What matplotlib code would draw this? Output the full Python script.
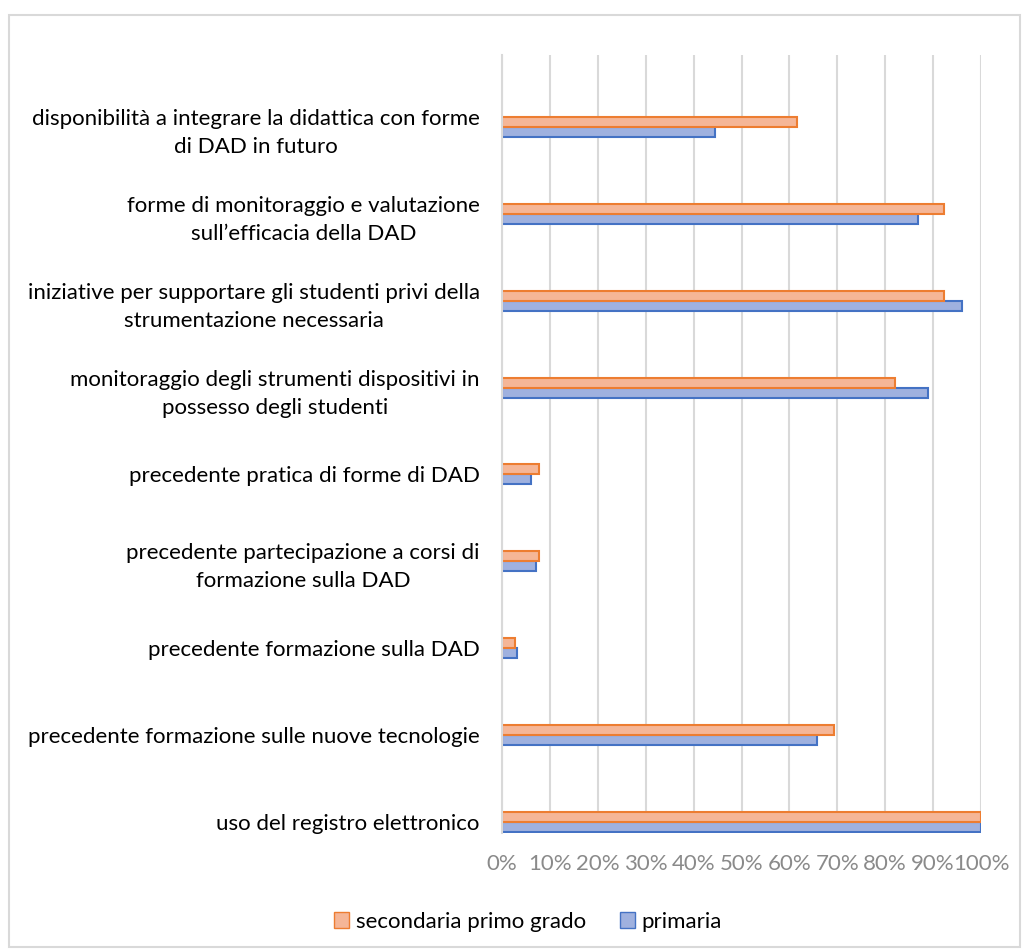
import matplotlib.pyplot as plt
import matplotlib.patches as mpatches
import numpy as np

# categories listed from bottom to top, as in the chart
categories = [
    "uso del registro elettronico",
    "precedente formazione sulle nuove tecnologie",
    "precedente formazione sulla DAD",
    "precedente partecipazione a corsi di\nformazione sulla DAD",
    "precedente pratica di forme di DAD",
    "monitoraggio degli strumenti dispositivi in\npossesso degli studenti",
    "iniziative per supportare gli studenti privi della\nstrumentazione necessaria",
    "forme di monitoraggio e valutazione\nsull\u2019efficacia della DAD",
    "disponibilit\u00e0 a integrare la didattica con forme\ndi DAD in futuro",
]
primaria = [100, 65.7, 3.1, 7.2, 6.1, 88.9, 96.0, 86.8, 44.5]
secondaria = [100, 69.3, 2.7, 7.8, 7.8, 82.0, 92.3, 92.3, 61.5]
xticks = [0, 10, 20, 30, 40, 50, 60, 70, 80, 90, 100]

plt.rcParams['font.family'] = ['Lato', 'DejaVu Sans']

fig = plt.figure(figsize=(10.24, 9.51), dpi=100)
ax = fig.add_axes([502/1024, 1-833/951, 479/1024, 778/951])

y = np.arange(len(categories))
h = 0.115
ax.barh(y - h/2, primaria, height=h, color='#9fb1df', edgecolor='#4472c4', linewidth=1.5, label='primaria')
ax.barh(y + h/2, secondaria, height=h, color='#f5b697', edgecolor='#ed7d31', linewidth=1.5, label='secondaria primo grado')

ax.set_xlim(0, 100)
ax.set_ylim(-0.13, 8.83)
ax.set_xticks(xticks)
ax.set_xticklabels([f"{t}%" for t in xticks], fontsize=16, color='#8a8a8a')
ax.set_yticks(y)
ax.set_yticklabels(categories, fontsize=16, multialignment='center', linespacing=1.5)
ax.tick_params(axis='both', length=0)
ax.tick_params(axis='y', pad=16)
ax.tick_params(axis='x', pad=15)
ax.grid(axis='x', color='#d9d9d9', linewidth=1.5)
ax.set_axisbelow(True)
for s in ['top', 'right', 'bottom']:
    ax.spines[s].set_visible(False)
ax.spines['left'].set_color('#d9d9d9')
ax.spines['left'].set_linewidth(1.5)

orange_patch = mpatches.Patch(facecolor='#f5b697', edgecolor='#ed7d31', label='secondaria primo grado')
blue_patch = mpatches.Patch(facecolor='#9fb1df', edgecolor='#4472c4', label='primaria')
fig.legend(handles=[orange_patch, blue_patch], loc='center', bbox_to_anchor=(528/1024, 1-922/951),
           ncol=2, frameon=False, fontsize=16, handlelength=0.7, handleheight=0.7,
           handletextpad=0.3, columnspacing=1.5)

fig.patches.append(mpatches.Rectangle((9/1024, 1-947/951), 1011/1024, 932/951, transform=fig.transFigure,
                                      fill=False, edgecolor='#d9d9d9', linewidth=1.5))

fig.savefig('out.png', dpi=100, facecolor='white')
